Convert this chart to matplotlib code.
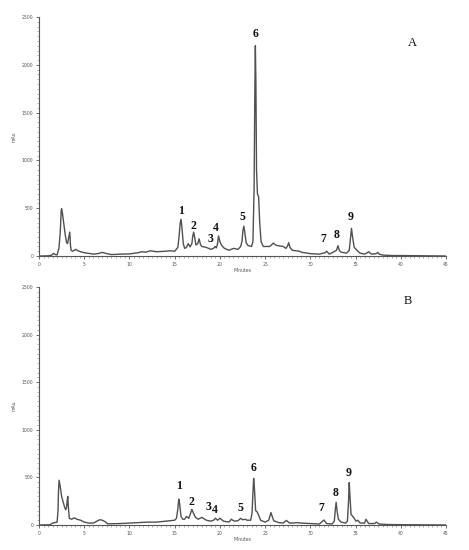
import matplotlib
matplotlib.use("Agg")
import matplotlib.pyplot as plt
from matplotlib.ticker import MultipleLocator

# Panel A chromatogram (time in minutes, absorbance in mAu)
time_a = [0, 1.0, 1.4, 1.6, 1.8, 2.0, 2.2, 2.35, 2.45, 2.5, 2.6, 2.75, 2.9, 3.05, 3.15, 3.3, 3.4, 3.47, 3.55,
          3.7, 3.9, 4.1, 4.3, 4.6, 5.0, 6.0, 6.5, 7.0, 7.5, 8.0, 9.0, 10.0, 11.0, 11.3, 11.8, 12.3, 13.0,
          14.0, 14.4, 15.0, 15.35, 15.5, 15.6, 15.7, 15.8, 15.95, 16.1, 16.3, 16.5, 16.7, 16.9, 17.0, 17.1,
          17.2, 17.35, 17.55, 17.7, 17.85, 18.0, 18.5, 19.0, 19.3, 19.45, 19.6, 19.72, 19.85, 20.0, 20.2,
          20.5, 21.0, 21.5, 22.0, 22.3, 22.45, 22.55, 22.65, 22.75, 22.9, 23.1, 23.5, 23.65, 23.78, 23.86,
          23.92, 23.98, 24.05, 24.15, 24.28, 24.4, 24.55, 24.8, 25.5, 25.75, 25.9, 26.1, 26.3, 27.0, 27.3,
          27.5, 27.6, 27.75, 28.0, 28.8, 29.0, 30.0, 31.0, 31.65, 31.8, 31.95, 32.1, 32.9, 33.05, 33.2, 33.4,
          34.0, 34.3, 34.45, 34.55, 34.65, 34.85, 35.0, 35.2, 35.5, 36.0, 36.3, 36.45, 36.6, 36.8, 37.3,
          37.45, 37.6, 38.0, 39.0, 40.0, 45.0]
mau_a = [0, 2, 8, 28, 15, 12, 80, 250, 470, 495, 440, 330, 220, 140, 130, 200, 250, 120, 60,
         50, 60, 70, 55, 45, 35, 20, 25, 38, 25, 15, 20, 22, 35, 45, 40, 55, 45,
         50, 55, 50, 90, 220, 340, 385, 300, 130, 80, 90, 130, 95, 130, 210, 250,
         200, 115, 130, 180, 120, 100, 90, 70, 80, 100, 85, 120, 210, 150, 110,
         80, 60, 80, 70, 100, 160, 270, 312, 250, 140, 110, 100, 150, 700, 1700,
         2200, 1800, 900, 650, 620, 350, 150, 100, 100, 120, 135, 120, 110, 100, 80,
         110, 140, 90, 60, 50, 40, 25, 20, 35, 50, 35, 20, 60, 108, 60, 40,
         30, 60, 200, 290, 210, 90, 75, 55, 30, 20, 35, 45, 30, 20, 25,
         38, 20, 10, 5, 5, 0]

# Panel B chromatogram
time_b = [0, 1.2, 1.5, 2.0, 2.1, 2.15, 2.22, 2.35, 2.5, 2.7, 2.85, 2.95, 3.05, 3.12, 3.18, 3.25, 3.35,
          3.6, 3.9, 4.2, 4.6, 5.0, 5.5, 6.0, 6.4, 6.7, 7.0, 7.3, 7.6, 9.0, 10.0, 11.0, 12.0, 13.0, 14.0,
          14.5, 15.0, 15.2, 15.35, 15.45, 15.55, 15.7, 15.9, 16.1, 16.3, 16.55, 16.75, 16.9, 17.05, 17.3,
          17.6, 18.0, 18.5, 19.0, 19.3, 19.5, 19.75, 20.0, 20.4, 21.0, 21.25, 21.6, 22.0, 22.3, 22.5,
          22.8, 23.0, 23.4, 23.55, 23.65, 23.73, 23.82, 23.95, 24.1, 24.25, 24.5, 25.0, 25.4, 25.55,
          25.65, 25.78, 25.95, 26.5, 27.0, 27.35, 27.7, 28.0, 28.5, 29.0, 30.0, 31.0, 31.5, 31.8, 32.4,
          32.65, 32.75, 32.85, 32.95, 33.1, 33.4, 33.9, 34.1, 34.22, 34.3, 34.38, 34.5, 34.65, 34.85,
          35.05, 35.25, 35.5, 36.0, 36.15, 36.45, 37.1, 37.3, 37.6, 38.5, 40.0, 45.0]
mau_b = [0, 2, 20, 30, 150, 350, 470, 400, 300, 230, 180, 160, 190, 260, 300, 180, 70,
         60, 75, 60, 50, 30, 20, 20, 40, 55, 50, 35, 12, 15, 20, 25, 30, 30, 40,
         45, 50, 70, 170, 272, 220, 90, 60, 60, 90, 70, 120, 165, 130, 80,
         60, 80, 50, 40, 50, 70, 50, 70, 40, 30, 60, 40, 45, 70, 55,
         60, 50, 50, 120, 330, 490, 380, 150, 140, 110, 50, 30, 50, 100,
         130, 90, 45, 25, 20, 48, 20, 20, 25, 20, 15, 10, 52, 15, 10,
         40, 150, 238, 150, 60, 30, 20, 40, 250, 445, 300, 110, 95, 70,
         40, 50, 20, 20, 60, 15, 15, 30, 10, 5, 3, 0]

# Peak labels: text centres in data units
labels_a = ["1", "2", "3", "4", "5", "6", "7", "8", "9"]
lab_x_a = [15.7, 17.06, 19.0, 19.5, 22.5, 23.92, 31.4, 32.95, 34.4]
lab_y_a = [473, 310, 181, 292, 407, 2325, 177, 219, 404]
labels_b = ["1", "2", "3", "4", "5", "6", "7", "8", "9"]
lab_x_b = [15.45, 16.85, 18.7, 19.45, 22.26, 23.7, 31.24, 32.75, 34.2]
lab_y_b = [410, 245, 185, 155, 182, 603, 182, 333, 543]
panel_names = ["A", "B"]

fig = plt.figure(figsize=(4.69, 5.5), dpi=100)
ax_a = fig.add_axes([0.0832, 0.5345, 0.8678, 0.4345])
ax_b = fig.add_axes([0.0832, 0.0455, 0.8678, 0.4327])

line_color = "#505050"
serif = ["Liberation Serif", "DejaVu Serif"]

def style(ax):
    ax.set_xlim(0, 45)
    ax.set_ylim(0, 2500)
    for s in ("top", "right"):
        ax.spines[s].set_visible(False)
    for s in ("left", "bottom"):
        ax.spines[s].set_color("#555555")
        ax.spines[s].set_linewidth(0.8)
    ax.xaxis.set_major_locator(MultipleLocator(5))
    ax.xaxis.set_minor_locator(MultipleLocator(0.5))
    ax.yaxis.set_major_locator(MultipleLocator(500))
    ax.yaxis.set_minor_locator(MultipleLocator(50))
    ax.tick_params(axis="both", which="major", length=2.5, width=0.6, labelsize=3.3,
                   colors="#555555", pad=1.5)
    ax.tick_params(axis="both", which="minor", length=1.3, width=0.4, colors="#777777")
    ax.set_xlabel("Minutes", fontsize=3.3, color="#555555", labelpad=1)
    ax.set_ylabel("mAu", fontsize=3.3, color="#555555", labelpad=4)

for ax, t, y, labs, lx, ly, name, nx, ny in [
        (ax_a, time_a, mau_a, labels_a, lab_x_a, lab_y_a, panel_names[0], 41.3, 2232),
        (ax_b, time_b, mau_b, labels_b, lab_x_b, lab_y_b, panel_names[1], 40.8, 2354)]:
    style(ax)
    ax.plot(t, y, color=line_color, lw=1.0)
    for s, xx, yy in zip(labs, lx, ly):
        ax.text(xx, yy, s, ha="center", va="center", fontsize=8.5, fontweight="bold",
                family=serif, color="#111111")
    ax.text(nx, ny, name, ha="center", va="center", fontsize=9, family=serif, color="#111111")

fig.savefig("out.png", dpi=100)
